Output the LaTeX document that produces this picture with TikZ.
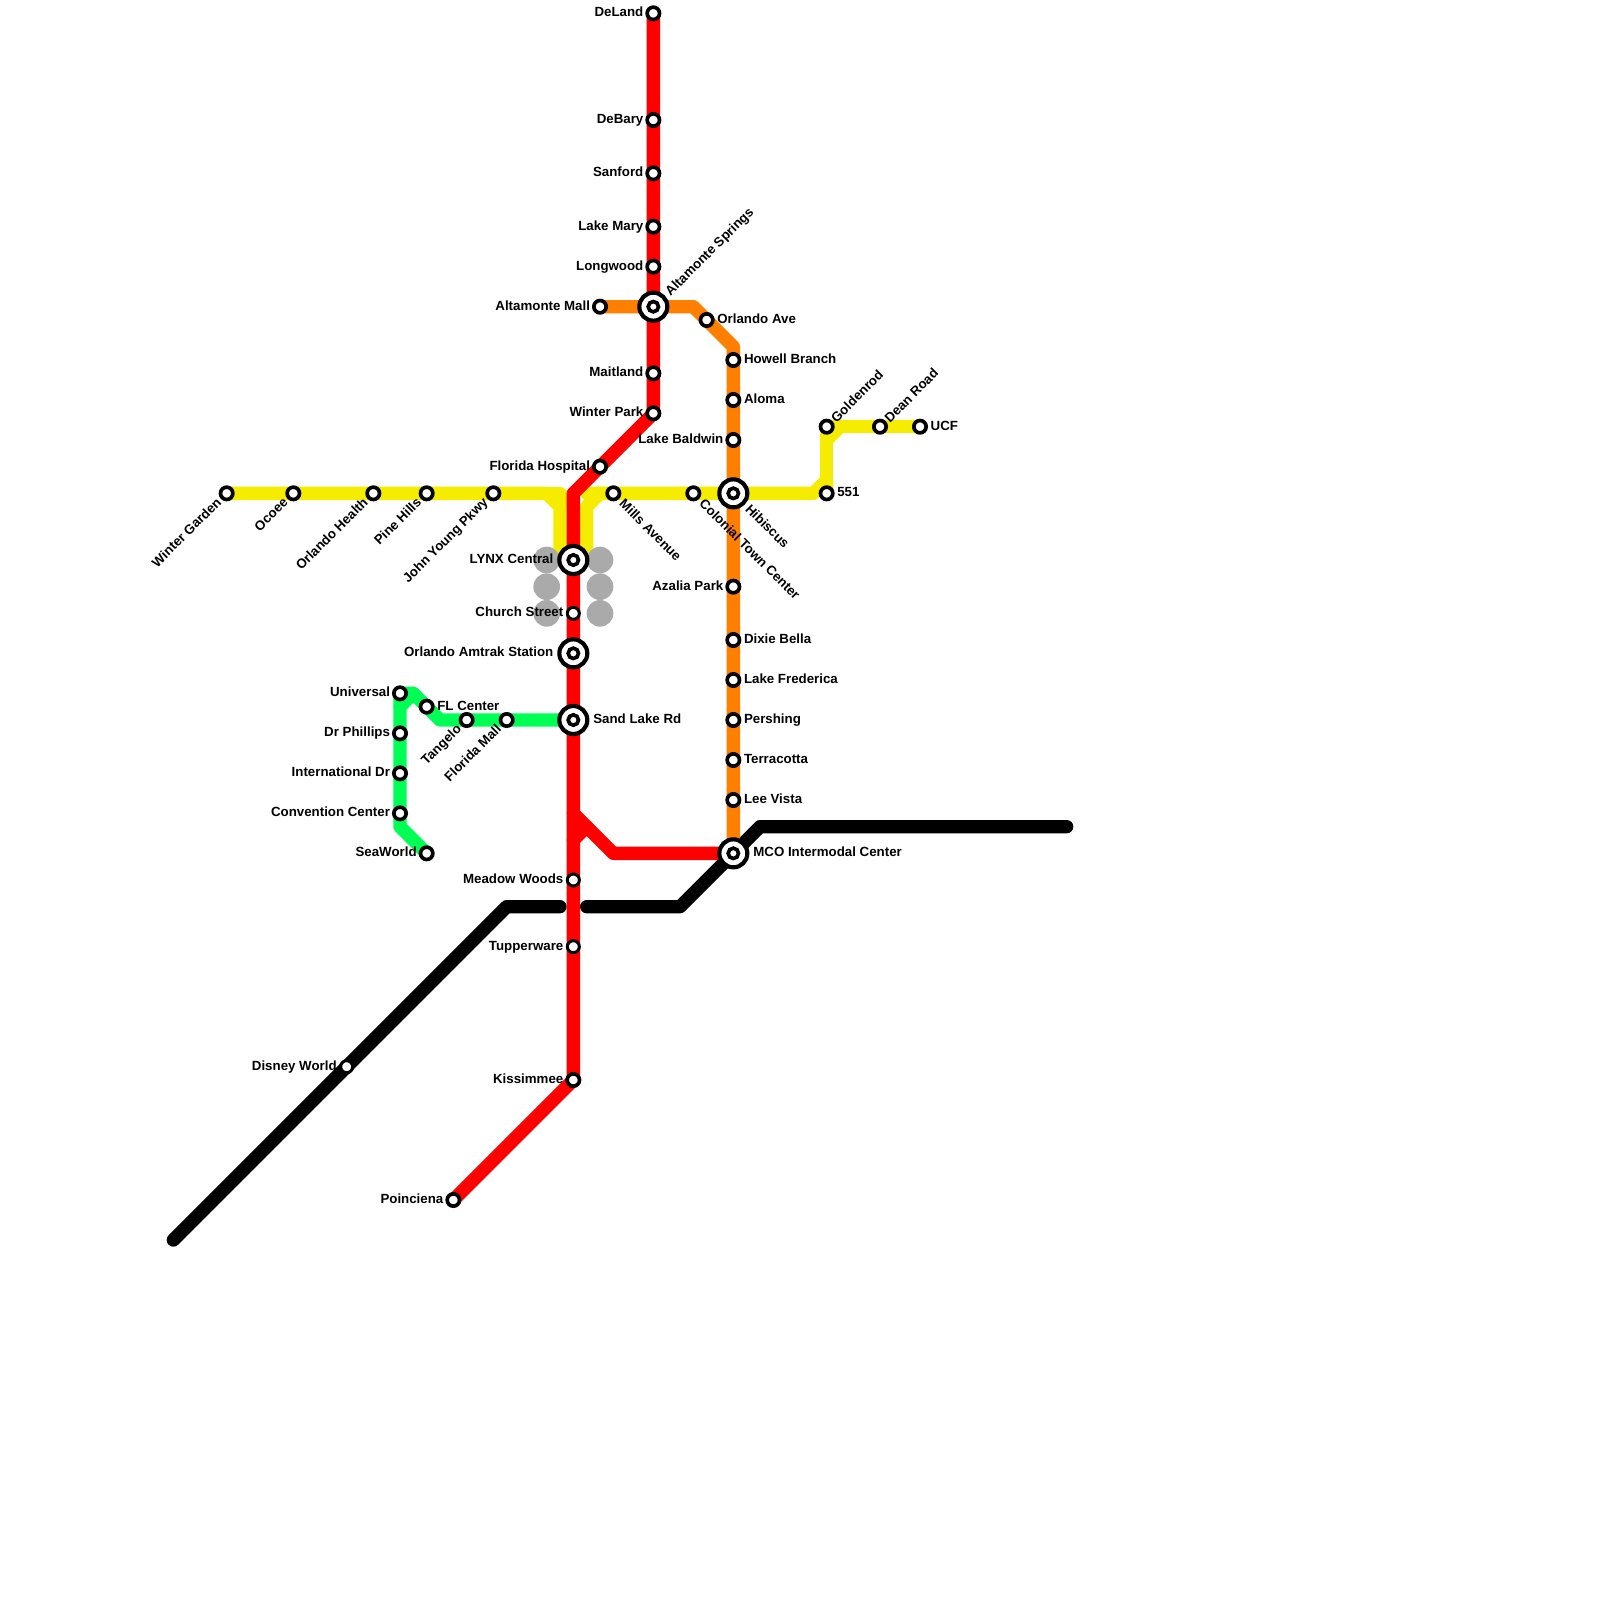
\documentclass[tikz,border=0pt]{standalone}
\usepackage{fontspec}
\setmainfont{Liberation Sans}[BoldFont={Liberation Sans Bold}]
\usetikzlibrary{calc}
\pgfdeclarelayer{bg}
\pgfsetlayers{bg,main}
\definecolor{lred}{HTML}{FF0000}
\definecolor{lorange}{HTML}{FF8000}
\definecolor{lyellow}{HTML}{F5EC00}
\definecolor{lgreen}{HTML}{00FF55}
\definecolor{lgray}{HTML}{AAAAAA}
\tikzset{
  metro/.style={line width=0.4cm,line cap=round,line join=round},
  rline/.style={metro,draw=lred},
  oline/.style={metro,draw=lorange},
  yline/.style={metro,draw=lyellow},
  gline/.style={metro,draw=lgreen},
  kline/.style={metro,draw=black},
  stn/.style={circle,draw=black,fill=white,line width=0.11cm,minimum size=0.37cm,inner sep=0pt,outer sep=0pt},
  thin stn/.style={stn,line width=0.09cm,minimum size=0.36cm},
  hub/.style={stn,line width=0.125cm,minimum size=0.84cm},
  hubin/.style={stn,line width=0.11cm,minimum size=0.31cm},
  pad/.style={circle,fill=lgray,minimum size=0.8cm,inner sep=0pt,outer sep=0pt},
  lbl/.style={font=\bfseries\fontsize{11.35}{13}\selectfont,inner sep=0pt,outer sep=0pt,text=black},
}
% station helpers: name, x, y, text
\newcommand{\stL}[4]{\node[stn] (#1) at (#2,#3) {};\node[lbl,anchor=base east] (#1-t) at ($(#1)+(-0.75,0.25)$) {#4};}
\newcommand{\stR}[4]{\node[stn] (#1) at (#2,#3) {};\node[lbl,anchor=base west] (#1-t) at ($(#1)+(0.8,0.25)$) {#4};}
\newcommand{\stNE}[4]{\node[stn] (#1) at (#2,#3) {};\node[lbl,anchor=base west,rotate=45] (#1-t) at ($(#1)+(0.75,-0.25)$) {#4};}
\newcommand{\stSW}[4]{\node[stn] (#1) at (#2,#3) {};\node[lbl,anchor=base east,rotate=45] (#1-t) at ($(#1)+(-0.35,0.75)$) {#4};}
\newcommand{\stSE}[4]{\node[stn] (#1) at (#2,#3) {};\node[lbl,anchor=base west,rotate=-45] (#1-t) at ($(#1)+(0.4,0.85)$) {#4};}
\newcommand{\hb}[3]{\node[hub] (#1) at (#2,#3) {};\node[hubin] (#1-c) at (#1) {};}
\begin{document}
\begin{tikzpicture}[x=0.4cm,y=-0.4cm]
\useasboundingbox (0,0) rectangle (120,120);
% stations: red
\stL{deland}{49}{1}{DeLand}
\stL{debary}{49}{9}{DeBary}
\stL{sanford}{49}{13}{Sanford}
\stL{lakemary}{49}{17}{Lake Mary}
\stL{longwood}{49}{20}{Longwood}
\hb{altamonte}{49}{23}
\node[lbl,anchor=base west,rotate=45] (altamonte-t) at ($(altamonte)+(1.3,-0.75)$) {Altamonte Springs};
\stL{maitland}{49}{28}{Maitland}
\stL{winterpark}{49}{31}{Winter Park}
\stL{florhosp}{45}{35}{Florida Hospital}
\hb{lynx}{43}{42}
\node[lbl,anchor=base east] (lynx-t) at ($(lynx)+(-1.5,0.25)$) {LYNX Central};
\node[thin stn] (church) at (43,46) {};
\node[lbl,anchor=base east] (church-t) at ($(church)+(-0.75,0.25)$) {Church Street};
\hb{amtrak}{43}{49}
\node[lbl,anchor=base east] (amtrak-t) at ($(amtrak)+(-1.5,0.25)$) {Orlando Amtrak Station};
\hb{sandlake}{43}{54}
\node[lbl,anchor=base west] (sandlake-t) at ($(sandlake)+(1.5,0.25)$) {Sand Lake Rd};
\node[thin stn] (meadow) at (43,66) {};
\node[lbl,anchor=base east] (meadow-t) at ($(meadow)+(-0.75,0.25)$) {Meadow Woods};
\node[thin stn] (tupper) at (43,71) {};
\node[lbl,anchor=base east] (tupper-t) at ($(tupper)+(-0.75,0.25)$) {Tupperware};
\stL{kiss}{43}{81}{Kissimmee}
\stL{poinc}{34}{90}{Poinciena}
% orange
\stL{altmall}{45}{23}{Altamonte Mall}
\stR{orlave}{53}{24}{Orlando Ave}
\stR{howell}{55}{27}{Howell Branch}
\stR{aloma}{55}{30}{Aloma}
\stL{baldwin}{55}{33}{Lake Baldwin}
\hb{hibiscus}{55}{37}
\node[lbl,anchor=base west,rotate=-45] (hibiscus-t) at ($(hibiscus)+(0.85,1.25)$) {Hibiscus};
\stL{azalia}{55}{44}{Azalia Park}
\stR{dixie}{55}{48}{Dixie Bella}
\stR{frederica}{55}{51}{Lake Frederica}
\stR{pershing}{55}{54}{Pershing}
\stR{terracotta}{55}{57}{Terracotta}
\stR{leevista}{55}{60}{Lee Vista}
\hb{mco}{55}{64}
\node[lbl,anchor=base west] (mco-t) at ($(mco)+(1.5,0.25)$) {MCO Intermodal Center};
% yellow
\stSW{wgarden}{17}{37}{Winter Garden}
\stSW{ocoee}{22}{37}{Ocoee}
\stSW{orlhealth}{28}{37}{Orlando Health}
\stSW{pinehills}{32}{37}{Pine Hills}
\stSW{jyoung}{37}{37}{John Young Pkwy}
\stSE{mills}{46}{37}{Mills Avenue}
\stSE{colonial}{52}{37}{Colonial Town Center}
\stR{s551}{62}{37}{551}
\stNE{goldenrod}{62}{32}{Goldenrod}
\stNE{deanrd}{66}{32}{Dean Road}
\stR{ucf}{69}{32}{UCF}
% green
\stL{universal}{30}{52}{Universal}
\stL{drphillips}{30}{55}{Dr Phillips}
\stL{intldr}{30}{58}{International Dr}
\stL{convention}{30}{61}{Convention Center}
\stL{seaworld}{32}{64}{SeaWorld}
\stR{flcenter}{32}{53}{FL Center}
\stSW{tangelo}{35}{54}{Tangelo}
\stSW{flmall}{38}{54}{Florida Mall}
% black
\node[thin stn] (disney) at (26,80) {};
\node[lbl,anchor=base east] (disney-t) at ($(disney)+(-0.75,0.25)$) {Disney World};
% bends and free ends
\coordinate (yl1) at (41,37);
\coordinate (yl2) at (42,38);
\coordinate (yl3) at (42,37);
\coordinate (yl4) at (42,42);
\coordinate (yr0) at (44,37);
\coordinate (yr1) at (45,37);
\coordinate (yr2) at (44,38);
\coordinate (yr3) at (44,42);
\coordinate (y61) at (61,37);
\coordinate (y62) at (62,36);
\coordinate (y63) at (62,33);
\coordinate (y64) at (63,32);
\coordinate (g1) at (30,62);
\coordinate (g2) at (30,53);
\coordinate (g3) at (31,52);
\coordinate (g4) at (33,54);
\coordinate (r1) at (43,37);
\coordinate (r2) at (43,61);
\coordinate (r3) at (46,64);
\coordinate (r4) at (43,63);
\coordinate (r5) at (44,62);
\coordinate (o1) at (52,23);
\coordinate (o2) at (55,26);
\coordinate (k0) at (13,93);
\coordinate (k1) at (38,68);
\coordinate (k2) at (42,68);
\coordinate (k3) at (44,68);
\coordinate (k4) at (51,68);
\coordinate (k5) at (57,62);
\coordinate (k6) at (80,62);
\begin{pgfonlayer}{bg}
\fill[white] (0,0) rectangle (120,120);
\draw[kline] (k0) -- (disney.center) -- (k1) -- (k2);
\draw[kline] (k3) -- (k4) -- (mco.center) -- (k5) -- (k6);
\draw[yline] (wgarden.center) -- (yl1) -- (yl2) -- (yl4);
\draw[yline] (yl1) -- (yl3) -- (yl2);
\draw[yline] (yr0) -- (mills.center) -- (colonial.center) -- (hibiscus.center) -- (y61) -- (y62) -- (s551.center);
\draw[yline] (yr1) -- (yr2) -- (yr3);
\draw[yline] (s551.center) -- (goldenrod.center) -- (ucf.center);
\draw[yline] (y63) -- (y64);
\draw[gline] (universal.center) -- (g1) -- (seaworld.center);
\draw[gline] (g2) -- (g3) -- (universal.center);
\draw[gline] (g3) -- (flcenter.center) -- (g4) -- (sandlake.center);
\draw[rline] (deland.center) -- (winterpark.center) -- (r1) -- (kiss.center) -- (poinc.center);
\draw[rline] (r2) -- (r3) -- (mco.center);
\draw[rline] (r4) -- (r5);
\draw[oline] (altmall.center) -- (o1) -- (o2) -- (mco.center);
\node[pad] (p1) at (41,42) {};
\node[pad] (p2) at (41,44) {};
\node[pad] (p3) at (41,46) {};
\node[pad] (p4) at (45,42) {};
\node[pad] (p5) at (45,44) {};
\node[pad] (p6) at (45,46) {};
\end{pgfonlayer}
\end{tikzpicture}
\end{document}
